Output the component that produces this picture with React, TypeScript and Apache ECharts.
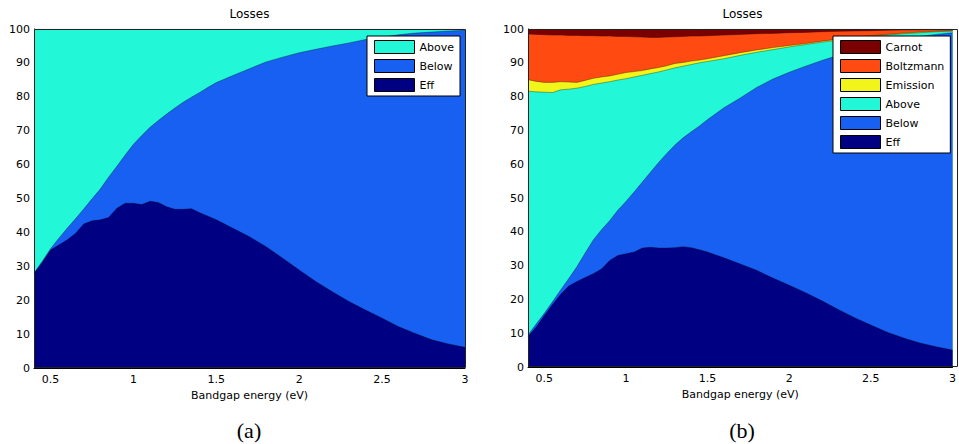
import React, { useEffect, useRef } from "react";
import * as echarts from "echarts";

// Bandgap energy (eV) sample points
const bandgap = [
  0.4, 0.45, 0.5, 0.55, 0.6, 0.65, 0.7, 0.75, 0.8, 0.85, 0.9, 0.95, 1.0, 1.05,
  1.1, 1.15, 1.2, 1.25, 1.3, 1.35, 1.4, 1.45, 1.5, 1.6, 1.7, 1.8, 1.9, 2.0, 2.1,
  2.2, 2.3, 2.4, 2.5, 2.6, 2.7, 2.8, 2.9, 3.0,
];

// (a) losses (%), layers from the bottom: Eff, Below, Above
const aEff = [
  27.9, 31.1, 34.8, 36.3, 37.8, 39.7, 42.5, 43.4, 43.7, 44.4, 47.1, 48.6, 48.6,
  48.2, 49.2, 48.8, 47.6, 46.8, 46.8, 47.0, 45.8, 44.8, 43.7, 41.2, 38.7, 35.8,
  32.4, 28.9, 25.5, 22.5, 19.6, 17.1, 14.7, 12.2, 10.2, 8.3, 7.1, 6.1,
];
const aBelow = [
  0.1, 0.4, 0.4, 2.0, 3.4, 4.3, 4.4, 6.5, 9.1, 11.9, 12.4, 14.2, 17.4, 20.4,
  21.8, 24.2, 27.3, 29.9, 31.6, 32.9, 35.5, 38.0, 40.5, 45.1, 49.6, 54.5, 59.3,
  64.1, 68.5, 72.5, 76.3, 79.8, 82.9, 86.1, 88.6, 90.8, 92.3, 93.5,
];
const aAbove = [
  72.0, 68.5, 64.8, 61.7, 58.8, 56.0, 53.1, 50.1, 47.2, 43.7, 40.5, 37.2, 34.0,
  31.4, 29.0, 27.0, 25.1, 23.3, 21.6, 20.1, 18.7, 17.2, 15.8, 13.7, 11.7, 9.7,
  8.3, 7.0, 6.0, 5.0, 4.1, 3.1, 2.4, 1.7, 1.2, 0.9, 0.6, 0.4,
];

// (b) losses (%), layers from the bottom: Eff, Below, Above, Emission, Boltzmann, Carnot
const bEff = [
  9.0, 11.8, 15.2, 18.5, 21.5, 24.0, 25.3, 26.5, 27.6, 29.0, 31.5, 33.0, 33.5,
  34.0, 35.2, 35.4, 35.2, 35.2, 35.3, 35.6, 35.3, 34.7, 34.0, 32.3, 30.5, 28.6,
  26.3, 24.2, 22.0, 19.6, 17.0, 14.6, 12.4, 10.3, 8.6, 7.1, 6.0, 5.0,
];
const bBelow = [
  0.5, 0.9, 0.7, 0.8, 1.3, 2.2, 4.4, 7.2, 10.0, 11.6, 11.8, 13.4, 15.5, 17.8,
  19.5, 22.2, 25.3, 28.0, 30.4, 32.2, 34.3, 36.6, 39.2, 44.4, 49.1, 54.1, 58.9,
  63.0, 67.0, 71.1, 75.2, 79.0, 82.5, 85.7, 88.4, 90.7, 92.4, 93.9,
];
const bAbove = [
  72.1, 68.7, 65.4, 61.9, 59.2, 56.0, 52.8, 49.3, 46.0, 43.4, 41.1, 38.5, 36.3,
  34.0, 31.6, 29.2, 26.8, 24.7, 22.8, 21.2, 19.9, 18.7, 17.2, 14.5, 12.6, 10.4,
  8.7, 7.5, 6.4, 5.4, 4.5, 3.7, 2.9, 2.2, 1.6, 1.1, 0.8, 0.5,
];
const bEmission = [
  3.4, 3.1, 2.9, 3.0, 2.4, 2.1, 1.7, 1.8, 1.8, 1.8, 1.7, 1.7, 1.8, 1.6, 1.4,
  1.4, 1.3, 1.2, 1.3, 1.1, 1.0, 0.8, 0.8, 0.9, 0.8, 0.7, 0.6, 0.4, 0.3, 0.3,
  0.3, 0.2, 0.2, 0.2, 0.2, 0.2, 0.15, 0.1,
];
const bBoltzmann = [
  13.5, 13.9, 14.1, 14.0, 13.8, 13.8, 13.9, 13.2, 12.6, 12.1, 11.8, 11.2, 10.7,
  10.3, 9.9, 9.3, 8.9, 8.5, 7.9, 7.7, 7.4, 7.1, 6.8, 6.1, 5.4, 4.8, 4.2, 3.8,
  3.3, 2.8, 2.3, 1.9, 1.5, 1.2, 0.9, 0.65, 0.45, 0.35,
];
const bCarnot = [
  1.5, 1.6, 1.7, 1.75, 1.8, 1.85, 1.9, 1.95, 2.0, 2.05, 2.1, 2.15, 2.2, 2.3,
  2.4, 2.5, 2.5, 2.4, 2.3, 2.2, 2.1, 2.05, 2.0, 1.8, 1.6, 1.4, 1.3, 1.1, 1.0,
  0.8, 0.7, 0.6, 0.5, 0.4, 0.3, 0.25, 0.2, 0.15,
];

const legendA = ["Above", "Below", "Eff"];
const legendB = ["Carnot", "Boltzmann", "Emission", "Above", "Below", "Eff"];

const COLORS: Record<string, string> = {
  Eff: "#000082",
  Below: "#1760F2",
  Above: "#22F8D8",
  Emission: "#F2F51A",
  Boltzmann: "#FF4A12",
  Carnot: "#7A0000",
};

const FONT = "DejaVu Sans";

// Build stacked layers (MATLAB area style): each layer's top = running sum.
// Drawn top layer first so lower layers paint over it.
function stackedSeries(layers: [string, number[]][], idx: number) {
  const tops: number[][] = [];
  layers.forEach(([, vals], k) => {
    tops.push(vals.map((v, i) => (k === 0 ? v : tops[k - 1][i] + v)));
  });
  const out: any[] = [];
  for (let k = layers.length - 1; k >= 0; k--) {
    const name = layers[k][0];
    out.push({
      name,
      type: "line",
      xAxisIndex: idx,
      yAxisIndex: idx,
      symbol: "none",
      showSymbol: false,
      color: COLORS[name],
      itemStyle: { color: COLORS[name] },
      lineStyle: { width: 0.6, color: "#000", opacity: 0.55 },
      areaStyle: { color: COLORS[name], opacity: 1, origin: "start" },
      data: bandgap.map((x, i) => [x, Math.min(100, tops[k][i])]),
      z: 2,
    });
  }
  return out;
}

function xAxisFor(idx: number) {
  return {
    type: "value",
    gridIndex: idx,
    min: 0.4,
    max: 3,
    name: "Bandgap energy (eV)",
    nameLocation: "middle",
    nameGap: 22,
    nameTextStyle: { color: "#000", fontSize: 11, fontFamily: FONT },
    axisLine: { show: true, lineStyle: { color: "#000" } },
    axisTick: { show: false },
    splitLine: { show: false },
    axisLabel: {
      showMinLabel: false,
      color: "#000",
      fontSize: 11,
      fontFamily: FONT,
      margin: 6,
    },
  };
}

function yAxisFor(idx: number) {
  return {
    type: "value",
    gridIndex: idx,
    min: 0,
    max: 100,
    interval: 10,
    axisLine: { show: true, lineStyle: { color: "#000" } },
    axisTick: { show: false },
    splitLine: { show: false },
    axisLabel: { color: "#000", fontSize: 11, fontFamily: FONT, margin: 4 },
  };
}

function legendFor(names: string[], left: number) {
  return {
    orient: "vertical",
    left,
    top: 36,
    data: names,
    icon: "rect",
    itemWidth: 40,
    itemHeight: 13,
    itemGap: 5,
    selectedMode: false,
    padding: [4, 6, 4, 7],
    backgroundColor: "#fff",
    borderColor: "#000",
    borderWidth: 1,
    borderRadius: 0,
    itemStyle: { borderColor: "#000", borderWidth: 1 },
    textStyle: { color: "#000", fontSize: 11, fontFamily: FONT },
    z: 20,
  };
}

function centeredText(text: string, x: number, y: number, font: string) {
  return {
    type: "text",
    x,
    y,
    z: 20,
    style: {
      text,
      align: "center",
      verticalAlign: "middle",
      textAlign: "center",
      textVerticalAlign: "middle",
      font,
      fill: "#000",
    },
  };
}

export default function App() {
  const ref = useRef<HTMLDivElement>(null);
  useEffect(() => {
    if (!ref.current) return;
    const chart = echarts.init(ref.current, null, { renderer: "svg" });
    const gridA = { left: 34, top: 29, width: 431, height: 339 };
    const gridB = { left: 528, top: 29, width: 429, height: 338 };
    chart.setOption({
      animation: false,
      backgroundColor: "#fff",
      grid: [
        { ...gridA, containLabel: false },
        { ...gridB, containLabel: false },
      ],
      xAxis: [xAxisFor(0), xAxisFor(1)],
      yAxis: [yAxisFor(0), yAxisFor(1)],
      legend: [legendFor(legendA, 367), legendFor(legendB, 833)],
      series: [
        ...stackedSeries(
          [
            ["Eff", aEff],
            ["Below", aBelow],
            ["Above", aAbove],
          ],
          0
        ),
        ...stackedSeries(
          [
            ["Eff", bEff],
            ["Below", bBelow],
            ["Above", bAbove],
            ["Emission", bEmission],
            ["Boltzmann", bBoltzmann],
            ["Carnot", bCarnot],
          ],
          1
        ),
      ],
      graphic: [
        {
          type: "rect",
          z: 10,
          silent: true,
          shape: { x: gridA.left + 0.5, y: gridA.top + 0.5, width: gridA.width, height: gridA.height - 1 },
          style: { fill: "none", stroke: "#222", lineWidth: 1 },
        },
        {
          type: "rect",
          z: 10,
          silent: true,
          shape: { x: gridB.left + 0.5, y: gridB.top + 0.5, width: gridB.width, height: gridB.height - 1 },
          style: { fill: "none", stroke: "#222", lineWidth: 1 },
        },
        centeredText("Losses", gridA.left + gridA.width / 2, 14, `12px "${FONT}"`),
        centeredText("Losses", gridB.left + gridB.width / 2, 14, `12px "${FONT}"`),
        centeredText("(a)", 249, 430, `22px "Liberation Serif"`),
        centeredText("(b)", 742, 430, `22px "Liberation Serif"`),
      ],
    });
    return () => chart.dispose();
  }, []);
  return (
    <div
      ref={ref}
      style={{ position: "fixed", left: 0, top: 0, width: 959, height: 444, background: "#fff" }}
    />
  );
}
